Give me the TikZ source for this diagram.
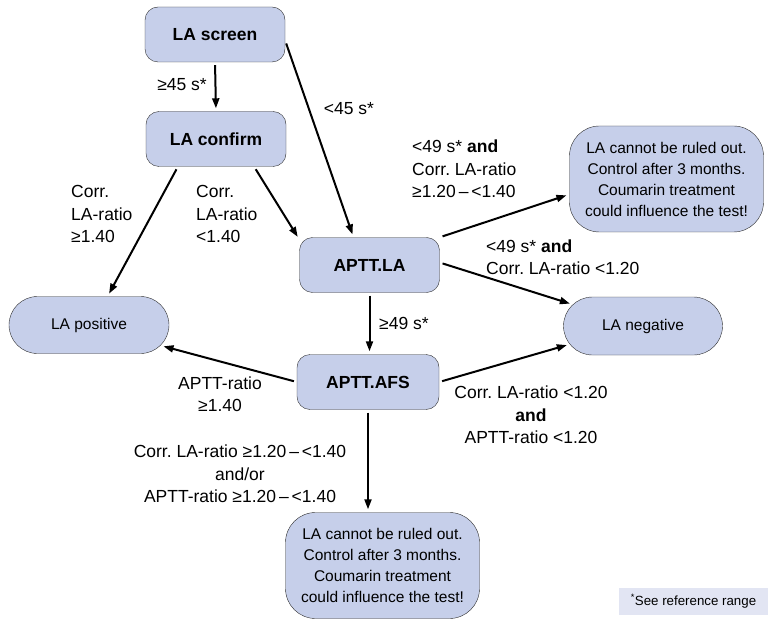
\documentclass[tikz,border=0pt]{standalone}
\usepackage{fontspec}
\setmainfont{Liberation Sans}
\usetikzlibrary{arrows.meta,shapes.misc}
\frenchspacing

\definecolor{boxfill}{RGB}{198,207,234}
\definecolor{notefill}{RGB}{226,229,243}
\definecolor{boxline}{RGB}{45,45,45}

\tikzset{
  test/.style={draw=boxline,fill=boxfill,rounded corners=13pt,minimum width=140pt,
    minimum height=55pt,inner sep=2pt,font=\fontsize{17.5}{21}\selectfont\bfseries},
  result/.style={draw=boxline,fill=boxfill,rounded rectangle,minimum width=164pt,
    minimum height=57pt,inner sep=2pt,font=\fontsize{15.5}{21}\selectfont},
  advice/.style={draw=boxline,fill=boxfill,rounded corners=30pt,minimum width=194pt,
    minimum height=106pt,inner sep=2pt,align=center,font=\fontsize{15.5}{21}\selectfont},
  cond/.style={inner sep=0pt,font=\fontsize{17.5}{22.5}\selectfont},
  flow/.style={-{Triangle[length=10pt,width=7pt]},line width=2pt,
    shorten <=3pt,shorten >=3pt}
}

\begin{document}
\begin{tikzpicture}[x=1pt,y=-1pt]
  \useasboundingbox (0,0) rectangle (770,620);
  % tests
  \node(scr)[test] at (215,34.5) {LA screen};
  \node(conf)[test] at (216,139) {LA confirm};
  \node(la)[test] at (369.5,265) {APTT.LA};
  \node(afs)[test,minimum width=142pt] at (368,382) {APTT.AFS};
  % outcomes
  \node(pos)[result] at (89,325) {LA positive};
  \node(neg)[result,minimum width=163pt,minimum height=58pt] at (643,326) {LA negative};
  \node(topres)[advice] at (666.5,179) {LA cannot be ruled out.\\Control after 3 months.\\Coumarin treatment\\could influence the test!};
  \node(botres)[advice] at (382.5,565.5) {LA cannot be ruled out.\\Control after 3 months.\\Coumarin treatment\\could influence the test!};
  % connectors
  \draw[flow] (scr.south) -- (conf.north);
  \draw[flow] (scr.-5) -- (la.120);
  \draw[flow] (conf.216) -- (pos.57);
  \draw[flow] (conf.-36) -- (la.160);
  \draw[flow] (la.north east) -- (topres.189);
  \draw[flow] (la.2) -- (neg.163);
  \draw[flow] (la.south) -- (la.south |- afs.north);
  \draw[flow] (afs.west) -- (pos.-16);
  \draw[flow] (afs.east) -- (neg.194);
  \draw[flow] (afs.south) -- (afs.south |- botres.north);
  % conditions
  \node(c1)[cond] at (182,85) {≥45 s*};
  \node(c2)[cond] at (349,109) {<45 s*};
  \node(c3)[cond,anchor=west,align=left] at (71,214) {Corr.\\LA-ratio\\≥1.40};
  \node(c4)[cond,anchor=west,align=left] at (196,214) {Corr.\\LA-ratio\\<1.40};
  \node(c5)[cond,anchor=west,align=left] at (412,169) {<49 s* \textbf{and}\\Corr. LA-ratio\\≥1.20\,–\,<1.40};
  \node(c6)[cond,anchor=west,align=left] at (486,257) {<49 s* \textbf{and}\\Corr. LA-ratio <1.20};
  \node(c7)[cond,anchor=west] at (379,323) {≥49 s*};
  \node(c8)[cond,align=center] at (220,394) {APTT-ratio\\≥1.40};
  \node(c9)[cond,align=center] at (531,415) {Corr. LA-ratio <1.20\\\textbf{and}\\APTT-ratio <1.20};
  \node(c10)[cond,align=center] at (240,474) {Corr. LA-ratio ≥1.20\,–\,<1.40\\and/or\\APTT-ratio ≥1.20\,–\,<1.40};
  % footnote
  \node(note)[fill=notefill,minimum width=149pt,minimum height=27pt,inner sep=2pt,
    font=\fontsize{13.3}{16}\selectfont] at (693.5,601.5) {\textsuperscript{*}See reference range};
\end{tikzpicture}
\end{document}
